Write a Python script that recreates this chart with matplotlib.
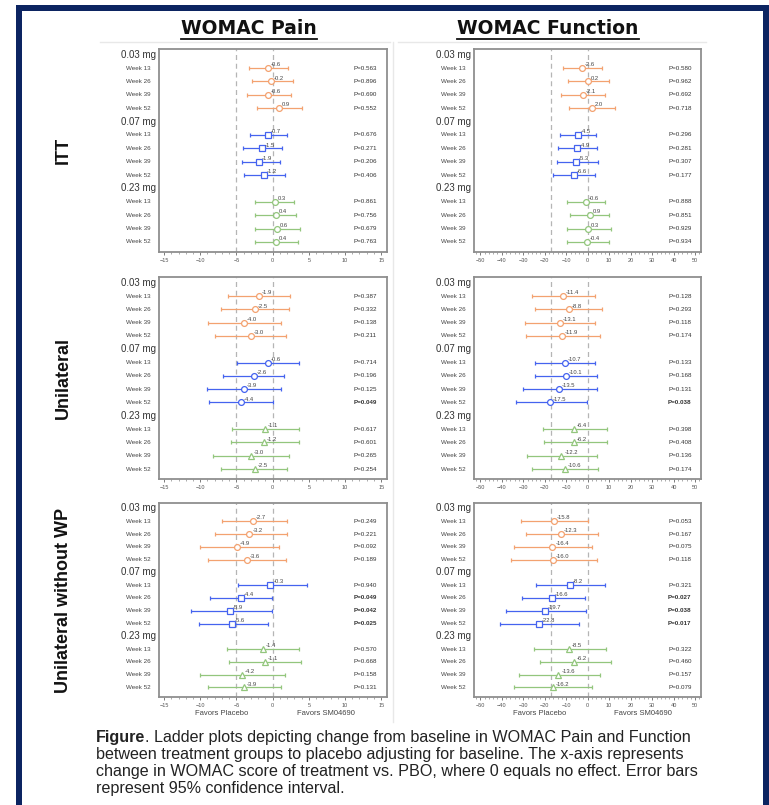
import numpy as np
import matplotlib.pyplot as plt
from matplotlib.lines import Line2D
from matplotlib.patches import Rectangle
from matplotlib.ticker import MultipleLocator
import matplotlib.transforms as mtransforms

plt.rcParams['font.family'] = ['Liberation Sans', 'DejaVu Sans']

W, H = 769, 805

doses = ["0.03 mg", "0.07 mg", "0.23 mg"]
weeks = ["Week 13", "Week 26", "Week 39", "Week 52"]
dose_colors = ["#f3a270", "#4563ef", "#93c67d"]
populations = ["ITT", "Unilateral", "Unilateral without WP"]
pop_markers = [["o", "s", "o"], ["o", "o", "^"], ["o", "s", "^"]]

# WOMAC Pain - ITT (order: 0.03 wk13..52, 0.07 wk13..52, 0.23 wk13..52)
itt_pain_est = [-0.6, -0.2, -0.6, 0.9, -0.7, -1.5, -1.9, -1.2, 0.3, 0.4, 0.6, 0.4]
itt_pain_lo = [-3.2, -2.9, -3.6, -2.1, -3.1, -4.1, -4.3, -3.9, -2.4, -2.4, -2.4, -2.4]
itt_pain_hi = [2.1, 2.8, 2.5, 4.1, 2.0, 1.3, 1.0, 1.7, 2.9, 3.2, 3.8, 3.5]
itt_pain_p = [0.563, 0.896, 0.690, 0.552, 0.676, 0.271, 0.206, 0.406, 0.861, 0.756, 0.679, 0.763]

# WOMAC Function - ITT
itt_func_est = [-2.6, 0.2, -2.1, 2.0, -4.5, -4.9, -5.3, -6.6, -0.6, 0.9, 0.3, -0.4]
itt_func_lo = [-11.3, -9.0, -12.2, -8.8, -13.0, -13.8, -14.4, -16.3, -9.6, -8.2, -9.6, -9.8]
itt_func_hi = [6.8, 9.8, 8.2, 12.7, 4.0, 4.3, 5.0, 3.4, 8.2, 9.8, 10.9, 9.8]
itt_func_p = [0.580, 0.962, 0.692, 0.718, 0.296, 0.281, 0.307, 0.177, 0.888, 0.851, 0.929, 0.934]

# WOMAC Pain - Unilateral
uni_pain_est = [-1.9, -2.5, -4.0, -3.0, -0.6, -2.6, -3.9, -4.4, -1.1, -1.2, -3.0, -2.5]
uni_pain_lo = [-6.1, -7.1, -8.9, -7.9, -4.9, -6.9, -9.1, -8.8, -5.6, -5.7, -8.2, -7.2]
uni_pain_hi = [2.4, 2.3, 1.1, 1.8, 3.6, 1.6, 1.2, 0.0, 3.6, 3.6, 2.2, 2.0]
uni_pain_p = [0.387, 0.332, 0.138, 0.211, 0.714, 0.196, 0.125, 0.049, 0.617, 0.601, 0.265, 0.254]

# WOMAC Function - Unilateral
uni_func_est = [-11.4, -8.8, -13.1, -11.9, -10.7, -10.1, -13.5, -17.5, -6.4, -6.2, -12.2, -10.6]
uni_func_lo = [-26.0, -24.3, -29.2, -28.7, -24.3, -24.3, -30.1, -33.4, -21.0, -20.2, -28.3, -26.0]
uni_func_hi = [3.4, 6.8, 3.4, 5.9, 3.4, 4.5, 4.2, -0.5, 8.8, 8.8, 4.2, 4.9]
uni_func_p = [0.128, 0.293, 0.118, 0.174, 0.133, 0.168, 0.131, 0.038, 0.398, 0.408, 0.136, 0.174]

# WOMAC Pain - Unilateral without WP
nowp_pain_est = [-2.7, -3.2, -4.9, -3.6, -0.3, -4.4, -5.9, -5.6, -1.4, -1.1, -4.2, -3.9]
nowp_pain_lo = [-7.0, -8.0, -10.0, -8.9, -4.8, -8.7, -11.3, -10.2, -6.3, -6.0, -10.0, -8.9]
nowp_pain_hi = [2.0, 2.0, 0.9, 1.9, 4.7, -0.1, -0.1, -0.6, 3.7, 3.9, 1.7, 1.2]
nowp_pain_p = [0.249, 0.221, 0.092, 0.189, 0.940, 0.049, 0.042, 0.025, 0.570, 0.668, 0.158, 0.131]

# WOMAC Function - Unilateral without WP
nowp_func_est = [-15.8, -12.3, -16.4, -16.0, -8.2, -16.6, -19.7, -22.8, -8.5, -6.2, -13.6, -16.2]
nowp_func_lo = [-30.9, -28.9, -34.2, -35.7, -24.0, -30.6, -38.0, -41.0, -25.2, -22.4, -32.1, -34.2]
nowp_func_hi = [0.3, 4.9, 1.9, 4.2, 8.2, -1.4, -0.9, -4.0, 8.5, 10.8, 5.7, 1.9]
nowp_func_p = [0.053, 0.167, 0.075, 0.118, 0.321, 0.027, 0.038, 0.017, 0.322, 0.460, 0.157, 0.079]

pain_sets = [
    (itt_pain_est, itt_pain_lo, itt_pain_hi, itt_pain_p),
    (uni_pain_est, uni_pain_lo, uni_pain_hi, uni_pain_p),
    (nowp_pain_est, nowp_pain_lo, nowp_pain_hi, nowp_pain_p),
]
func_sets = [
    (itt_func_est, itt_func_lo, itt_func_hi, itt_func_p),
    (uni_func_est, uni_func_lo, uni_func_hi, uni_func_p),
    (nowp_func_est, nowp_func_lo, nowp_func_hi, nowp_func_p),
]


def ladder(ax, est, lo, hi, pvals, markers, xlim, major, minor, mcid):
    ax.set_xlim(xlim)
    ax.set_ylim(14.75, -0.43)
    ax.axvline(0, color="#b5b5b5", ls=(0, (4, 3)), lw=0.9, zorder=0)
    ax.axvline(mcid, color="#b5b5b5", ls=(0, (4, 3)), lw=0.9, zorder=0)
    trans = mtransforms.blended_transform_factory(ax.transAxes, ax.transData)
    for d in range(3):
        head = d * 5
        ax.text(-0.012, head, doses[d], transform=trans, ha="right", va="center",
                fontsize=7, color="#333333")
        for w in range(4):
            i = d * 4 + w
            y = head + 1 + w
            ax.errorbar(est[i], y, xerr=[[est[i] - lo[i]], [hi[i] - est[i]]],
                        fmt=markers[d], color=dose_colors[d], mfc="white",
                        mec=dose_colors[d], ms=4.2, mew=0.9, capsize=1.6,
                        elinewidth=0.9, capthick=0.9)
            ax.annotate(f"{est[i]:.1f}", (est[i], y), xytext=(2, 0.6),
                        textcoords="offset points", fontsize=4.2,
                        ha="left", va="bottom", color="#444444")
            ax.text(-0.036, y, weeks[w], transform=trans, ha="right", va="center",
                    fontsize=4.5, color="#444444")
            ax.text(0.855, y, f"P={pvals[i]:.3f}", transform=trans, ha="left",
                    va="center", fontsize=4.5, color="#333333",
                    fontweight="bold" if pvals[i] < 0.05 else "normal")
    ax.set_yticks([])
    ax.xaxis.set_major_locator(MultipleLocator(major))
    ax.xaxis.set_minor_locator(MultipleLocator(minor))
    ax.tick_params(axis="x", which="major", labelsize=4, length=2.5, width=0.6,
                   pad=1.5, colors="#666666", labelcolor="#555555")
    ax.tick_params(axis="x", which="minor", length=1.5, width=0.5, colors="#888888")
    for s in ax.spines.values():
        s.set_color("#8f8f8f")
        s.set_linewidth(1.3)


fig = plt.figure(figsize=(W / 100, H / 100), dpi=100)

# navy frame
navy = "#0c2461"
fig.add_artist(Rectangle((16 / W, 0), 6 / W, 1 - 5 / H, transform=fig.transFigure, color=navy, lw=0))
fig.add_artist(Rectangle((763 / W, 0), 6 / W, 1 - 5 / H, transform=fig.transFigure, color=navy, lw=0))
fig.add_artist(Rectangle((16 / W, 1 - 11 / H), 753 / W, 6 / H, transform=fig.transFigure, color=navy, lw=0))

# faint frames of the pasted panels
light = "#e8e8e8"
fig.add_artist(Line2D([100 / W, 390 / W], [1 - 42 / H, 1 - 42 / H], transform=fig.transFigure, color=light, lw=1))
fig.add_artist(Line2D([398 / W, 706 / W], [1 - 42 / H, 1 - 42 / H], transform=fig.transFigure, color=light, lw=1))
fig.add_artist(Line2D([393 / W, 393 / W], [1 - 42 / H, 1 - 722 / H], transform=fig.transFigure, color=light, lw=1))

panel_tops = [49, 277, 503]
panel_bots = [252, 479, 697]
left_x = (159, 387)
right_x = (474, 701)

for r in range(3):
    b = 1 - panel_bots[r] / H
    h = (panel_bots[r] - panel_tops[r]) / H
    axl = fig.add_axes([left_x[0] / W, b, (left_x[1] - left_x[0]) / W, h])
    ladder(axl, *pain_sets[r], pop_markers[r], (-15.7, 15.8), 5, 1, -5)
    axr = fig.add_axes([right_x[0] / W, b, (right_x[1] - right_x[0]) / W, h])
    ladder(axr, *func_sets[r], pop_markers[r], (-52.9, 52.7), 10, 2, -17)
    yc = 1 - (panel_tops[r] + panel_bots[r]) / 2 / H
    fig.text(63 / W, yc, populations[r], rotation=90, ha="center", va="center",
             fontsize=13, fontweight="bold", color="#111111",
             family=["Liberation Sans Narrow", "Liberation Sans", "DejaVu Sans"])

# favors labels
for cx, txt in [(222, "Favors Placebo"), (326, "Favors SM04690"),
                (540, "Favors Placebo"), (643, "Favors SM04690")]:
    fig.text(cx / W, 1 - 713 / H, txt, ha="center", va="center", fontsize=5.5, color="#444444")

# column titles with underline
titles = []
for cx, txt in [(249, "WOMAC Pain"), (548, "WOMAC Function")]:
    t = fig.text(cx / W, 1 - 29 / H, txt, ha="center", va="center",
                 fontsize=13.5, fontweight="bold", color="#111111",
                 family=["DejaVu Sans"])
    titles.append(t)

# caption
cap_lines = [
    "between treatment groups to placebo adjusting for baseline. The x-axis represents",
    "change in WOMAC score of treatment vs. PBO, where 0 equals no effect. Error bars",
    "represent 95% confidence interval.",
]
cap_x = 96 / W
fs_cap = 11.6
tb = fig.text(cap_x, 1 - 737 / H, "Figure", ha="left", va="center", fontsize=fs_cap,
              fontweight="bold", color="#222222")
first_rest = fig.text(cap_x, 1 - 737 / H,
                      ". Ladder plots depicting change from baseline in WOMAC Pain and Function",
                      ha="left", va="center", fontsize=fs_cap, color="#222222")
for k, line in enumerate(cap_lines):
    fig.text(cap_x, 1 - (754 + 17 * k) / H, line, ha="left", va="center",
             fontsize=fs_cap, color="#222222")

renderer = fig.canvas.get_renderer()
bb = tb.get_window_extent(renderer)
first_rest.set_x(bb.x1 / W)
for t in titles:
    e = t.get_window_extent(renderer)
    yline = (e.y0 - 1) / H
    fig.add_artist(Line2D([e.x0 / W, e.x1 / W], [yline, yline], transform=fig.transFigure,
                          color="#111111", lw=1.3))

fig.savefig("out.png", dpi=100)
